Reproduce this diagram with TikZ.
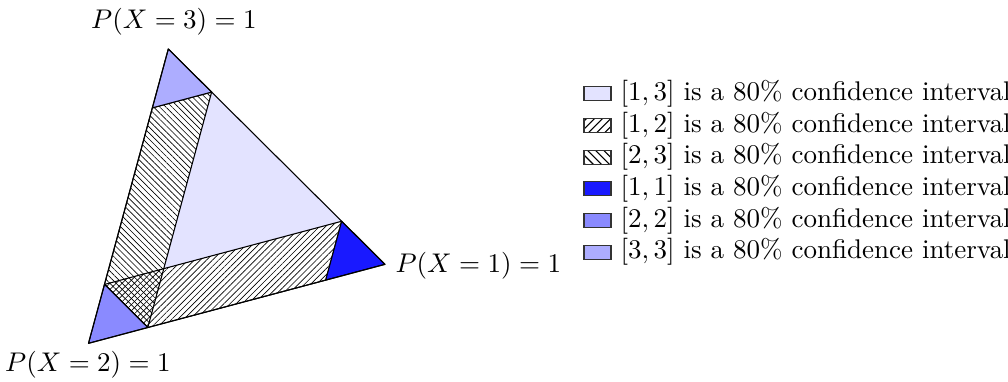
\documentclass[tikz,border=0pt]{standalone}
\usetikzlibrary{calc,patterns,patterns.meta}
\begin{document}
\begin{tikzpicture}[x=0.37037pt,y=-0.37037pt,
  region/.style={draw=black,line width=0.4pt,line join=round},
  nehatch/.style={pattern={Lines[angle=45,distance=1.6pt,line width=0.24pt]}},
  nwhatch/.style={pattern={Lines[angle=-45,distance=1.6pt,line width=0.24pt]}},
  legbox/.style={draw=black!80,line width=0.4pt,minimum width=27*0.37037pt,minimum height=14*0.37037pt,inner sep=0pt},
  legtext/.style={anchor=west,inner sep=0pt},
  vlabel/.style={inner sep=0pt}]
\useasboundingbox (0,0) rectangle (1008,381);
\colorlet{c11}{blue!90}
\colorlet{c22}{blue!46}
\colorlet{c33}{blue!32}
\colorlet{c13}{blue!11}
% vertices
\coordinate (V1) at (385,264.3);
\coordinate (V2) at (88.5,343.3);
\coordinate (V3) at (168.3,49);
\coordinate (a13) at ($(V1)!0.2!(V3)$);
\coordinate (a12) at ($(V1)!0.2!(V2)$);
\coordinate (b21) at ($(V2)!0.2!(V1)$);
\coordinate (b23) at ($(V2)!0.2!(V3)$);
\coordinate (c31) at ($(V3)!0.2!(V1)$);
\coordinate (c32) at ($(V3)!0.2!(V2)$);
\coordinate (m) at (barycentric cs:V1=0.2,V2=0.6,V3=0.2);
% regions
\fill[c13] (c31) -- (a13) -- (m) -- cycle;
\draw[region,nehatch] (a13) -- (a12) -- (b21) -- (b23) -- cycle;
\draw[region,nwhatch] (c31) -- (c32) -- (b23) -- (b21) -- cycle;
\draw[region,fill=c11] (V1) -- (a13) -- (a12) -- cycle;
\draw[region,fill=c22] (V2) -- (b21) -- (b23) -- cycle;
\draw[region,fill=c33] (V3) -- (c31) -- (c32) -- cycle;
\draw[region] (V1) -- (V2) -- (V3) -- cycle;
% vertex labels
\node[vlabel] (L3) at (174,22) {$P(X=3)=1$};
\node[vlabel,anchor=west] (L1) at (395,266) {$P(X=1)=1$};
\node[vlabel] (L2) at (88,365) {$P(X=2)=1$};
% legend
\node[legbox,fill=c13] (k1) at (597.5,93.7) {};
\node[legbox,pattern=north east lines] (k2) at (597.5,125.4) {};
\node[legbox,pattern=north west lines] (k3) at (597.5,157.1) {};
\node[legbox,fill=c11] (k4) at (597.5,188.8) {};
\node[legbox,fill=c22] (k5) at (597.5,220.5) {};
\node[legbox,fill=c33] (k6) at (597.5,252.2) {};
\node[legtext] (t1) at (620,93.7) {$[1,3]$ is a 80\% confidence interval};
\node[legtext] (t2) at (620,125.4) {$[1,2]$ is a 80\% confidence interval};
\node[legtext] (t3) at (620,157.1) {$[2,3]$ is a 80\% confidence interval};
\node[legtext] (t4) at (620,188.8) {$[1,1]$ is a 80\% confidence interval};
\node[legtext] (t5) at (620,220.5) {$[2,2]$ is a 80\% confidence interval};
\node[legtext] (t6) at (620,252.2) {$[3,3]$ is a 80\% confidence interval};
\end{tikzpicture}
\end{document}
